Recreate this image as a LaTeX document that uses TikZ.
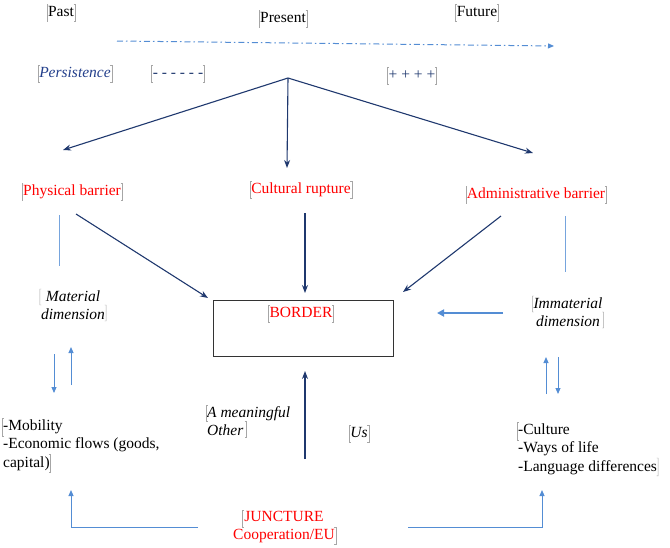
\documentclass[tikz,border=0pt]{standalone}
\usepackage{fontspec}
\setmainfont{Liberation Serif}
\usetikzlibrary{positioning,calc,arrows.meta}
\definecolor{navy}{RGB}{31,56,110}
\definecolor{paleblue}{RGB}{84,141,212}
\definecolor{persblue}{RGB}{36,64,140}

\begin{document}
\begin{tikzpicture}[x=1pt,y=-1pt,
    lbl/.style = {font=\fontsize{15.5}{18.6}\selectfont, inner sep=1pt, align=center},
    one/.style = {lbl, text height=11pt, text depth=3.5pt},
    brkl/.style = {draw=gray!70, line width=0.4pt, to path={([xshift=1.5pt]\tikztostart)
        -- (\tikztostart) -- (\tikztotarget) -- ([xshift=1.5pt]\tikztotarget)}},
    brkr/.style = {draw=gray!70, line width=0.4pt, to path={([xshift=-1.5pt]\tikztostart)
        -- (\tikztostart) -- (\tikztotarget) -- ([xshift=-1.5pt]\tikztotarget)}},
    brk/.style = {append after command={(\tikzlastnode.north west) edge[brkl]
        (\tikzlastnode.south west) (\tikzlastnode.north east) edge[brkr]
        (\tikzlastnode.south east)}},
    brk split/.style = {append after command={(\tikzlastnode.north west) edge[brkl]
        ($(\tikzlastnode.north west)!#1!(\tikzlastnode.south west)$)
        ($(\tikzlastnode.north east)!1-#1!(\tikzlastnode.south east)$) edge[brkr]
        (\tikzlastnode.south east)}},
    darr/.style = {navy, line width=1.1pt, -{Stealth[length=8pt,width=6pt]}},
    larr/.style = {paleblue, line width=1pt, -{Triangle[length=6pt,width=5pt]}},
    lline/.style = {paleblue!80, line width=0.9pt}]
  \useasboundingbox (0,0) rectangle (670,547);

  % time line
  \node[one, brk] (past) at (61,13) {Past};
  \node[one, brk] (present) at (283,19) {Present};
  \node[one, brk] (future) at (477,13) {Future};
  \coordinate (tstart) at (117,41); \coordinate (tend) at (554,46);
  \draw[paleblue, line width=1pt, dash pattern=on 6pt off 3pt on 1.5pt off 3pt,
    -{Triangle[length=6pt,width=5pt]}] (tstart) -- (tend);

  \node[one, brk, font=\fontsize{15.5}{18.6}\selectfont\itshape, text=persblue] (persist) at (75,74) {Persistence};
  \node[one, brk, text=navy] (minus) at (178,74) {- - - - - -};
  \node[one, brk, text=navy] (plus) at (412,76) {+ + + +};

  % fan
  \coordinate (apex) at (288,78);
  \coordinate (fanl) at (63,150); \coordinate (fanm) at (287,168); \coordinate (fanr) at (533,153);
  \draw[darr] (apex) -- (fanl);
  \draw[darr] (apex) -- (fanm);
  \draw[darr] (apex) -- (fanr);

  % barriers
  \node[one, brk, text=red] (phys) at (72,192) {Physical barrier};
  \node[one, brk, text=red] (cult) at (301,190) {Cultural rupture};
  \node[one, brk, text=red] (admin) at (536,195) {Administrative barrier};

  % border
  \node[draw=black!80, line width=0.8pt, minimum width=180pt, minimum height=56pt, inner sep=0pt] (border) at (303,328) {};
  \node[one, brk, text=red] (bordertxt) at (301,314) {BORDER};

  \coordinate (physout) at (76,214); \coordinate (physin) at (208,298);
  \coordinate (cultout) at (305,213); \coordinate (cultin) at (305,293);
  \coordinate (adminout) at (501,216); \coordinate (adminin) at (403,292);
  \draw[darr] (physout) -- (physin);
  \draw[darr] (cultout) -- (cultin);
  \draw[darr] (adminout) -- (adminin);

  % dimensions
  \node[lbl, brk split=0.5, font=\fontsize{15.5}{18.6}\selectfont\itshape] (mat) at (73,305) {Material\\dimension};
  \node[lbl, brk split=0.5, font=\fontsize{15.5}{18.6}\selectfont\itshape] (immat) at (568,312) {Immaterial\\dimension};
  \coordinate (physdown) at (59,215); \coordinate (matup) at (59,266);
  \coordinate (admindown) at (565,216); \coordinate (immatup) at (565,272);
  \draw[lline] (physdown) -- (matup);
  \draw[lline] (admindown) -- (immatup);

  \coordinate (immatout) at (503,313); \coordinate (borderin) at (437,313);
  \draw[paleblue, line width=2.6pt, -{Triangle[length=7pt,width=7pt]}] (immatout) -- (borderin);

  % flows
  \node[lbl, align=left, anchor=west] (mob) at (2,445) {-Mobility\\-Economic flows (goods,\\capital)};
  \node[lbl, align=left, anchor=west] (cultr) at (517,449) {-Culture\\-Ways of life\\-Language differences };
  \draw (mob.north west) edge[brkl] ($(mob.north west)!0.333!(mob.south west)$)
        ($(mob.north west)!0.667!(mob.south west)+(48,0)$) edge[brkr] ($(mob.south west)+(48,0)$);
  \draw (cultr.north west) edge[brkl] ($(cultr.north west)!0.333!(cultr.south west)$)
        ($(cultr.north east)!0.667!(cultr.south east)$) edge[brkr] (cultr.south east);

  \coordinate (matd1) at (54,354); \coordinate (mobu1) at (54,393);
  \coordinate (mobu2) at (71,385); \coordinate (matd2) at (71,347);
  \draw[larr] (matd1) -- (mobu1);
  \draw[larr] (mobu2) -- (matd2);
  \coordinate (cultu1) at (546,394); \coordinate (immatd1) at (546,357);
  \coordinate (immatd2) at (558,357); \coordinate (cultu2) at (558,394);
  \draw[larr] (cultu1) -- (immatd1);
  \draw[larr] (immatd2) -- (cultu2);

  % other / us
  \node[lbl, align=left, anchor=west, font=\fontsize{15.5}{18.6}\selectfont\itshape] (other) at (206,421) {A meaningful\\Other};
  \draw (other.north west) edge[brkl] (other.west)
        ($(other.west)+(40,0)$) edge[brkr] ($(other.south west)+(40,0)$);
  \node[one, brk, font=\fontsize{15.5}{18.6}\selectfont\itshape] (us) at (359,434) {Us};
  \coordinate (usout) at (305,459); \coordinate (usin) at (305,371);
  \draw[darr] (usout) -- (usin);

  % juncture
  \node[lbl, text=red] (junct) at (284,527) {JUNCTURE\\Cooperation/EU};
  \draw ($(junct.north)+(-42,0)$) edge[brkl] ($(junct.center)+(-42,0)$)
        (junct.east) edge[brkr] (junct.south east);
  \coordinate (junctl) at (198,527); \coordinate (mobin) at (71,490);
  \coordinate (junctr) at (408,527); \coordinate (cultin2) at (542,490);
  \draw[larr] (junctl) -| (mobin);
  \draw[larr] (junctr) -| (cultin2);
\end{tikzpicture}
\end{document}
